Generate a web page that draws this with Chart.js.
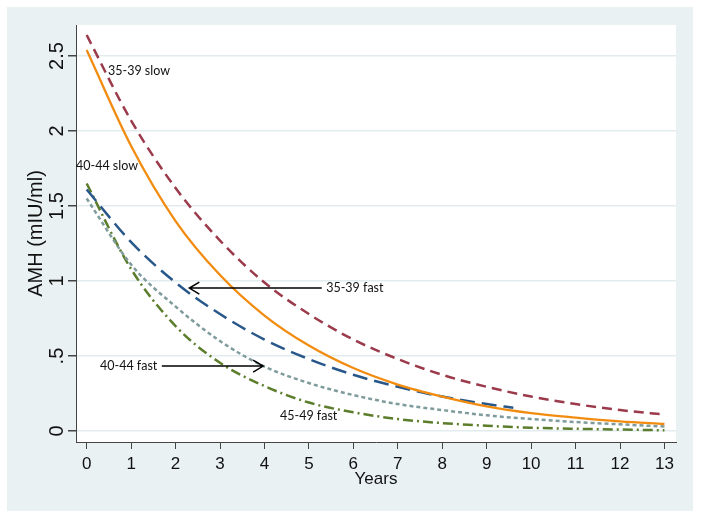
<!DOCTYPE html>
<html>
<head>
<meta charset="utf-8">
<script src="https://cdn.jsdelivr.net/npm/chart.js@4/dist/chart.umd.min.js"></script>
<style>
  html, body { margin: 0; padding: 0; background: #fff; }
  #wrap { width: 701px; height: 519px; }
</style>
</head>
<body>
<div id="wrap"><canvas id="amhChart" width="701" height="519"></canvas></div>
<script>
// values (years since baseline, AMH in mIU/ml)
const years = [0, 1, 2, 3, 4, 5, 6, 7, 8, 9, 10, 11, 12, 13];
const yearsShort = [0, 1, 2, 3, 4, 5, 6, 7, 8, 9, 9.6];

const slow3539 = [2.64, 2.07, 1.62, 1.27, 0.99, 0.78, 0.61, 0.48, 0.375, 0.295, 0.23, 0.18, 0.14, 0.11];
const slow4044 = [2.54, 1.90, 1.40, 1.04, 0.77, 0.57, 0.42, 0.31, 0.23, 0.165, 0.12, 0.09, 0.065, 0.047];
const fast3539 = [1.61, 1.26, 0.99, 0.78, 0.61, 0.48, 0.375, 0.295, 0.23, 0.18, 0.155];
const fast4044 = [1.55, 1.11, 0.83, 0.60, 0.43, 0.32, 0.24, 0.18, 0.14, 0.105, 0.08, 0.06, 0.045, 0.03];
const fast4549 = [1.65, 1.08, 0.70, 0.455, 0.30, 0.19, 0.125, 0.08, 0.053, 0.035, 0.022, 0.015, 0.01, 0.005];

const xTicks = [0, 1, 2, 3, 4, 5, 6, 7, 8, 9, 10, 11, 12, 13];
const yTicks = [0, 0.5, 1, 1.5, 2, 2.5];
const yTickLabels = ["0", ".5", "1", "1.5", "2", "2.5"];

// curve labels, anchored in data units
const notes = [
  { text: "35-39 slow", x: 0.48, y: 2.40 },
  { text: "40-44 slow", x: -0.24, y: 1.77 },
  { text: "35-39 fast", x: 5.39, y: 0.953, arrowFrom: 5.29, arrowTo: 2.31 },
  { text: "40-44 fast", x: 0.30, y: 0.433, arrowFrom: 1.69, arrowTo: 3.97 },
  { text: "45-49 fast", x: 4.35, y: 0.10 }
];

const toPoints = (xs, ys) => xs.map((x, i) => ({ x: x, y: ys[i] }));

const bgPlugin = {
  id: "bg",
  beforeDraw(chart) {
    const { ctx, chartArea } = chart;
    ctx.save();
    ctx.fillStyle = "#ffffff";
    ctx.fillRect(0, 0, chart.width, chart.height);
    ctx.fillStyle = "#eaf1f3";
    ctx.fillRect(7, 7, 686, 504);
    ctx.fillStyle = "#ffffff";
    ctx.fillRect(chartArea.left, chartArea.top, chartArea.right - chartArea.left, chartArea.bottom - chartArea.top);
    ctx.restore();
  }
};

// rotated y tick labels + y title + curve notes
const textPlugin = {
  id: "texts",
  afterDraw(chart) {
    const { ctx } = chart;
    const xs = chart.scales.x;
    const ys = chart.scales.y;
    ctx.save();
    ctx.fillStyle = "#111";
    ctx.textAlign = "center";
    ctx.textBaseline = "middle";
    ctx.font = "20px 'Liberation Sans', Arial, sans-serif";
    yTicks.forEach((v, i) => {
      ctx.save();
      ctx.translate(57, ys.getPixelForValue(v));
      ctx.rotate(-Math.PI / 2);
      ctx.fillText(yTickLabels[i], 0, 0);
      ctx.restore();
    });

    ctx.save();
    ctx.font = "20px 'Liberation Sans', Arial, sans-serif";
    ctx.translate(36, (chart.chartArea.top + chart.chartArea.bottom) / 2);
    ctx.rotate(-Math.PI / 2);
    ctx.fillText("AMH (mIU/ml)", 0, 0);
    ctx.restore();

    ctx.font = "12.5px Lato, 'Open Sans', sans-serif";
    ctx.textAlign = "left";
    ctx.strokeStyle = "#000";
    ctx.lineWidth = 1.5;
    notes.forEach(n => {
      const px = xs.getPixelForValue(n.x);
      const py = ys.getPixelForValue(n.y);
      ctx.fillText(n.text, px, py);
      if (n.arrowFrom !== undefined) {
        const a = xs.getPixelForValue(n.arrowFrom);
        const b = xs.getPixelForValue(n.arrowTo);
        const dir = b > a ? -1 : 1;
        ctx.beginPath();
        ctx.moveTo(a, py);
        ctx.lineTo(b, py);
        ctx.moveTo(b + dir * 10, py - 6);
        ctx.lineTo(b, py);
        ctx.lineTo(b + dir * 10, py + 6);
        ctx.stroke();
      }
    });
    ctx.restore();
  }
};

const lineStyle = (color, dash, width) => ({
  borderColor: color,
  borderDash: dash,
  borderWidth: width,
  pointRadius: 0,
  fill: false,
  cubicInterpolationMode: "monotone"
});

new Chart(document.getElementById("amhChart"), {
  type: "line",
  data: {
    datasets: [
      { label: "35-39 slow", data: toPoints(years, slow3539), ...lineStyle("#9b3a4b", [10, 6], 2.5) },
      { label: "40-44 slow", data: toPoints(years, slow4044), ...lineStyle("#f28c10", [], 2.3) },
      { label: "35-39 fast", data: toPoints(yearsShort, fast3539), ...lineStyle("#28578a", [15, 7], 2.5) },
      { label: "40-44 fast", data: toPoints(years, fast4044), ...lineStyle("#7f9b9c", [4, 3], 2.5) },
      { label: "45-49 fast", data: toPoints(years, fast4549), ...lineStyle("#5b7d2c", [10, 4, 2, 4], 2.5) }
    ]
  },
  options: {
    responsive: false,
    animation: false,
    layout: { padding: { left: 7, top: 25, right: 25, bottom: 8 } },
    plugins: { legend: { display: false }, tooltip: { enabled: false } },
    scales: {
      x: {
        type: "linear",
        min: -0.24,
        max: 13.26,
        afterBuildTicks: s => { s.ticks = xTicks.map(v => ({ value: v })); },
        afterFit: s => { s.height = 69; },
        grid: { drawOnChartArea: false, drawTicks: true, tickLength: 7, tickColor: "#444", lineWidth: 1 },
        border: { display: true, color: "#444", width: 1 },
        ticks: {
          color: "#111",
          padding: 5,
          maxRotation: 0,
          autoSkip: false,
          font: { family: "'Liberation Sans', Arial, sans-serif", size: 17 },
          callback: v => String(v)
        },
        title: {
          display: true,
          text: "Years",
          color: "#111",
          font: { family: "'Liberation Sans', Arial, sans-serif", size: 17 },
          padding: { top: 0, bottom: 21 }
        }
      },
      y: {
        type: "linear",
        min: -0.073,
        max: 2.707,
        afterBuildTicks: s => { s.ticks = yTicks.map(v => ({ value: v })); },
        afterFit: s => { s.width = 69; },
        grid: { drawOnChartArea: true, color: "#e2ecef", lineWidth: 1.5, drawTicks: true, tickLength: 8, tickColor: "#444" },
        border: { display: true, color: "#444", width: 1 },
        ticks: { display: false }
      }
    }
  },
  plugins: [bgPlugin, textPlugin]
});
</script>
</body>
</html>
